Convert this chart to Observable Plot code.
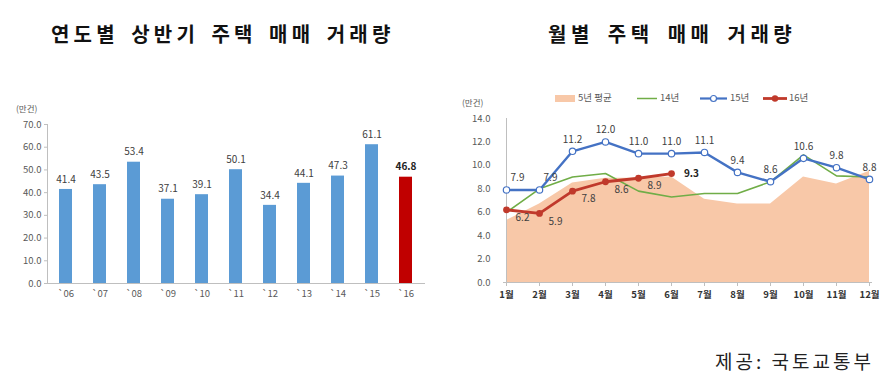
<!DOCTYPE html>
<html><head><meta charset="utf-8">
<script src="https://cdn.jsdelivr.net/npm/d3@7"></script>
<script src="https://cdn.jsdelivr.net/npm/@observablehq/plot@0.6"></script>
<style>
html,body{margin:0;padding:0;background:#fff;}
body{width:894px;height:392px;position:relative;overflow:hidden;font-family:"Noto Sans CJK KR","Noto Sans",sans-serif;}
.abs{position:absolute;white-space:nowrap;line-height:1;}
.title{font-size:20px;font-weight:700;color:#111;}
.unit{font-size:8.5px;color:#595959;}
.src{font-size:19px;color:#222;letter-spacing:3px;}
.lg{font-size:9.5px;color:#595959;}
#left,#right{position:absolute;top:0;}
#left{left:0;} #right{left:450px;}
</style></head><body>
<div class="abs title" style="left:51px;top:24px;letter-spacing:4.2px;word-spacing:3.7px">연도별 상반기 주택 매매 거래량</div>
<div class="abs title" style="left:548px;top:24px;letter-spacing:4.5px;word-spacing:5px">월별 주택 매매 거래량</div>
<div class="abs unit" style="left:16px;top:104px">(만건)</div>
<div class="abs unit" style="left:462px;top:98px">(만건)</div>
<div id="left"></div>
<div id="right"></div>
<svg class="abs" style="left:550px;top:90px" width="280" height="16">
  <rect x="5" y="5" width="20" height="7" fill="#f8c8a8"></rect>
  <line x1="87" x2="107" y1="8.5" y2="8.5" stroke="#70ad47" stroke-width="1.5"></line>
  <line x1="150" x2="177" y1="8.5" y2="8.5" stroke="#4472c4" stroke-width="2.2"></line>
  <circle cx="163.5" cy="8.5" r="3" fill="#fff" stroke="#4472c4" stroke-width="1.2"></circle>
  <line x1="213" x2="237" y1="8.5" y2="8.5" stroke="#c0392b" stroke-width="2.8"></line>
  <circle cx="225" cy="8.5" r="3.2" fill="#c0392b"></circle>
</svg>
<div class="abs lg" style="left:578px;top:93px">5년 평균</div>
<div class="abs lg" style="left:660px;top:93px">14년</div>
<div class="abs lg" style="left:730px;top:93px">15년</div>
<div class="abs lg" style="left:789px;top:93px">16년</div>
<div class="abs src" style="left:715px;top:351px">제공: 국토교통부</div>
<script>
// ---- data: left chart (상반기 거래량, 만건)
const years = ["`06","`07","`08","`09","`10","`11","`12","`13","`14","`15","`16"];
const halfVolume = [41.4,43.5,53.4,37.1,39.1,50.1,34.4,44.1,47.3,61.1,46.8];
const leftTicks = [0,10,20,30,40,50,60,70];
// ---- data: right chart (월별 거래량, 만건)
const months = ["1월","2월","3월","4월","5월","6월","7월","8월","9월","10월","11월","12월"];
const avg5 = [5.3,6.7,8.5,8.9,8.9,9.0,7.1,6.7,6.7,9.0,8.4,9.5];
const y14 = [6.0,8.0,9.0,9.3,7.8,7.3,7.6,7.6,8.6,10.9,9.1,9.0];
const y15 = [7.9,7.9,11.2,12.0,11.0,11.0,11.1,9.4,8.6,10.6,9.8,8.8];
const y16 = [6.2,5.9,7.8,8.6,8.9,9.3];
const rightTicks = [0,2,4,6,8,10,12,14];

const FONT = '"Noto Sans CJK KR","Noto Sans",sans-serif';
const AX = "#bfbfbf";

const barData = years.map((y,i)=>({year:y, v:halfVolume[i], last:i===years.length-1}));
const left = Plot.plot({
  width:440, height:310, marginLeft:47, marginRight:15, marginTop:124, marginBottom:27,
  style:{fontFamily:FONT, fontSize:"9.5px", color:"#595959", background:"transparent"},
  x:{domain:years, paddingInner:0.61, paddingOuter:0.305, label:null},
  y:{domain:[0,70], label:null},
  marks:[
    Plot.barY(barData,{x:"year", y:"v", fill:d=>d.last?"#c00000":"#5b9bd5"}),
    Plot.frame({anchor:"left", stroke:AX}),
    Plot.ruleY([0],{stroke:AX}),
    Plot.axisY({ticks:leftTicks, tickFormat:d=>d.toFixed(1), tickSize:3, tickPadding:3, stroke:AX, label:null}),
    Plot.axisX({tickSize:0, tickPadding:7, label:null}),
    Plot.text(barData.filter(d=>!d.last),{x:"year", y:"v", text:d=>d.v.toFixed(1), dy:-10, fill:"#404040", fontSize:10}),
    Plot.text(barData.filter(d=>d.last),{x:"year", y:"v", text:d=>d.v.toFixed(1), dy:-10, fill:"#222", fontSize:10, fontWeight:"bold"})
  ]
});
document.getElementById("left").appendChild(left);

const mData = months.map((m,i)=>({m, avg:avg5[i], a:y14[i], b:y15[i], c:i<y16.length?y16[i]:null}));
const d16 = mData.filter(d=>d.c!=null);
const right = Plot.plot({
  width:444, height:310, marginLeft:53, marginRight:22, marginTop:118, marginBottom:28,
  style:{fontFamily:FONT, fontSize:"9.5px", color:"#595959", background:"transparent"},
  x:{type:"point", domain:months, padding:0, label:null},
  y:{domain:[0,14], label:null},
  marks:[
    Plot.areaY(mData,{x:"m", y:"avg", fill:"#f8c8a8"}),
    Plot.ruleX([months[0]],{y1:0, y2:14, stroke:AX}),
    Plot.ruleY([0],{stroke:AX}),
    Plot.axisY({ticks:rightTicks, tickFormat:d=>d.toFixed(1), tickSize:0, tickPadding:13, label:null}),
    Plot.axisX({tickSize:4, tickPadding:5, stroke:AX, fill:"#333", label:null, fontWeight:"600"}),
    Plot.lineY(mData,{x:"m", y:"a", stroke:"#70ad47", strokeWidth:1.6}),
    Plot.lineY(mData,{x:"m", y:"b", stroke:"#4472c4", strokeWidth:2.4}),
    Plot.dot(mData,{x:"m", y:"b", r:3.2, fill:"#fff", stroke:"#4472c4", strokeWidth:1.2}),
    Plot.lineY(d16,{x:"m", y:"c", stroke:"#c0392b", strokeWidth:2.8}),
    Plot.dot(d16,{x:"m", y:"c", r:3.4, fill:"#c0392b"}),
    Plot.text(mData.slice(0,2),{x:"m", y:"b", text:d=>d.b.toFixed(1), dx:11, dy:-12, fill:"#404040", fontSize:10}),
    Plot.text(mData.slice(2),{x:"m", y:"b", text:d=>d.b.toFixed(1), dy:-12, fill:"#404040", fontSize:10}),
    Plot.text(d16.slice(0,5),{x:"m", y:"c", text:d=>d.c.toFixed(1), dx:16, dy:8, fill:"#404040", fontSize:10}),
    Plot.text(d16.slice(5),{x:"m", y:"c", text:d=>d.c.toFixed(1), dx:20, dy:0, fill:"#222", fontSize:10, fontWeight:"bold"})
  ]
});
document.getElementById("right").appendChild(right);
</script>
</body></html>
